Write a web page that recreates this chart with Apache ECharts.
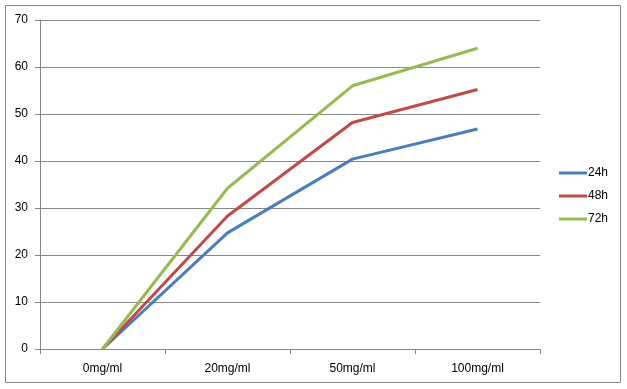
<!DOCTYPE html>
<html><head><meta charset="utf-8">
<script src="https://cdn.jsdelivr.net/npm/echarts@6/dist/echarts.min.js"></script>
<style>html,body{margin:0;padding:0;background:#fff}#c{width:627px;height:389px}</style>
</head><body><div id="c"></div>
<script>
const categories = ['0mg/ml', '20mg/ml', '50mg/ml', '100mg/ml'];
const s24 = [0, 24.7, 40.4, 46.8];
const s48 = [0, 28.3, 48.2, 55.2];
const s72 = [0, 34.2, 56.0, 64.0];
const yTicks = { min: 0, max: 70, interval: 10 };

const chart = echarts.init(document.getElementById('c'), null, { renderer: 'canvas' });
const font = 'Liberation Sans';
const mk = (name, data, color) => ({
  name, type: 'line', data, symbol: 'none', smooth: false,
  lineStyle: { color, width: 3 }, itemStyle: { color }
});
chart.setOption({
  animation: false,
  backgroundColor: '#fff',
  textStyle: { fontFamily: font },
  graphic: [{ type: 'rect', shape: { x: 5.5, y: 5.5, width: 615, height: 377 },
    style: { fill: 'none', stroke: '#868686', lineWidth: 1 } }],
  grid: { left: 40, top: 20, width: 500, height: 329, containLabel: false },
  legend: {
    orient: 'vertical', left: 554, top: 162, itemWidth: 28, itemHeight: 3, itemGap: 11,
    icon: 'rect',
    textStyle: { fontFamily: font, fontSize: 12, color: '#000', padding: [0, 0, 0, -4] },
    data: ['24h', '48h', '72h']
  },
  xAxis: {
    type: 'category', data: categories, boundaryGap: true,
    axisLine: { lineStyle: { color: '#868686', width: 1 } },
    axisTick: { show: true, length: 5, lineStyle: { color: '#868686' } },
    axisLabel: { color: '#000', fontSize: 12, margin: 14, fontFamily: font }
  },
  yAxis: {
    type: 'value', min: yTicks.min, max: yTicks.max, interval: yTicks.interval,
    axisLine: { show: true, lineStyle: { color: '#868686', width: 1 } },
    axisTick: { show: true, length: 5, lineStyle: { color: '#868686' } },
    splitLine: { lineStyle: { color: '#868686', width: 1 } },
    axisLabel: { color: '#000', fontSize: 12, margin: 12, fontFamily: font }
  },
  series: [mk('24h', s24, '#4a7ebb'), mk('48h', s48, '#be4b48'), mk('72h', s72, '#98b954')]
});
</script></body></html>
